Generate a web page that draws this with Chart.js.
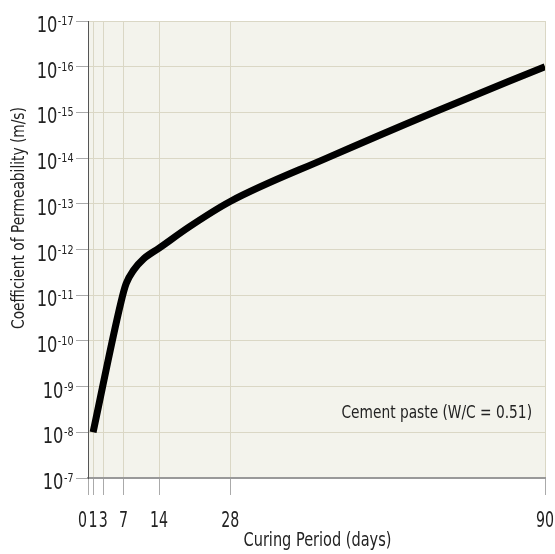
<!DOCTYPE html>
<html>
<head>
<meta charset="utf-8">
<script src="https://cdn.jsdelivr.net/npm/chart.js@4.4.1/dist/chart.umd.min.js"></script>
<style>
  html, body { margin: 0; padding: 0; background: #ffffff; }
  #wrap { width: 555px; height: 554px; }
</style>
</head>
<body>
<div id="wrap"><canvas id="c" width="555" height="554"></canvas></div>
<script>
// ---- data ----
// curing period in days
const curingDays = [1, 6.5, 7.5, 9, 11, 14, 20, 28, 47, 68, 90];
// permeability exponent n, value = 10^-n m/s
const permExponent = [8.0, 10.85, 11.25, 11.55, 11.8, 12.03, 12.5, 13.05, 14.0, 15.0, 16.0];
// axis ticks
const xTickValues = [0, 1, 3, 7, 14, 28, 90];
const yTickExponents = [7, 8, 9, 10, 11, 12, 13, 14, 15, 16, 17];
const seriesLabel = 'Cement paste (W/C = 0.51)';
const xTitle = 'Curing Period (days)';
const yTitle = 'Coefficient of Permeability (m/s)';

const FONT = "'Liberation Sans Narrow', 'DejaVu Sans Condensed', 'Roboto Condensed', 'Liberation Sans', sans-serif";
const TEXT = '#222222';

// draw text horizontally condensed
function txt(ctx, s, x, y, size, align, sx, baseline) {
  ctx.save();
  ctx.font = size + 'px ' + FONT;
  ctx.textAlign = align;
  ctx.textBaseline = baseline || 'alphabetic';
  ctx.translate(x, y);
  ctx.scale(sx, 1);
  ctx.fillText(s, 0, 0);
  ctx.restore();
}
function tw(ctx, s, size, sx) {
  ctx.save();
  ctx.font = size + 'px ' + FONT;
  const w = ctx.measureText(s).width * sx;
  ctx.restore();
  return w;
}

const bgPlugin = {
  id: 'plotBg',
  beforeDraw(chart) {
    const {ctx, chartArea: a} = chart;
    ctx.save();
    ctx.fillStyle = '#f3f3ec';
    ctx.fillRect(a.left, a.top, a.right - a.left, a.bottom - a.top);
    ctx.restore();
  }
};

const textPlugin = {
  id: 'texts',
  afterDraw(chart) {
    const {ctx, chartArea: a} = chart;
    const ys = chart.scales.y, xs = chart.scales.x;
    ctx.save();
    ctx.fillStyle = TEXT;
    // y tick labels 10^-n
    yTickExponents.forEach(n => {
      const y = ys.getPixelForValue(n);
      const base = '10', sup = '-' + n;
      const wb = tw(ctx, base, 22, 0.82);
      const ws = tw(ctx, sup, 13, 0.82);
      const x0 = 73 - ws - wb;
      txt(ctx, base, x0, y + 11, 22, 'left', 0.82);
      txt(ctx, sup, x0 + wb + 0.5, y + 4, 13, 'left', 0.82);
    });
    // x tick labels
    xTickValues.forEach((v, i) => {
      const x = xs.getPixelForValue(v);
      const align = i === 0 ? 'right' : 'center';
      txt(ctx, String(v), i === 0 ? x - 1 : x, 527, 21, align, 0.75);
    });
    // x title
    txt(ctx, xTitle, (a.left + a.right) / 2 + 1, 546, 19, 'center', 0.85);
    // y title
    ctx.save();
    ctx.translate(24, 218);
    ctx.rotate(-Math.PI / 2);
    txt(ctx, yTitle, 0, 0, 17, 'center', 0.9);
    ctx.restore();
    // series annotation
    txt(ctx, seriesLabel, a.right - 13, ys.getPixelForValue(8.45) + 6, 18, 'right', 0.85);
    ctx.restore();
  }
};

new Chart(document.getElementById('c'), {
  type: 'line',
  data: {
    datasets: [{
      label: seriesLabel,
      data: curingDays.map((d, i) => ({x: d, y: permExponent[i]})),
      borderColor: '#000000',
      borderWidth: 7,
      borderCapStyle: 'butt',
      borderJoinStyle: 'round',
      pointRadius: 0,
      cubicInterpolationMode: 'monotone',
      fill: false
    }]
  },
  options: {
    responsive: false,
    animation: false,
    devicePixelRatio: 1,
    layout: { padding: { left: 0, right: 10, top: 21, bottom: 0 } },
    plugins: { legend: { display: false }, tooltip: { enabled: false } },
    scales: {
      x: {
        type: 'linear',
        min: 0, max: 90,
        afterBuildTicks(s) { s.ticks = xTickValues.map(v => ({value: v})); },
        afterFit(s) { s.height = 76; s.paddingLeft = 0; s.paddingRight = 0; },
        grid: { color: '#dad7c5', lineWidth: 1, tickLength: 17, tickColor: '#aaaaaa' },
        border: { color: '#999999', width: 2 },
        ticks: { display: false }
      },
      y: {
        type: 'linear',
        min: 7, max: 17,
        afterBuildTicks(s) { s.ticks = yTickExponents.map(v => ({value: v})); },
        afterFit(s) { s.width = 88; s.paddingTop = 0; s.paddingBottom = 0; },
        grid: { color: '#dad7c5', lineWidth: 1, tickLength: 12, tickColor: '#aaaaaa' },
        border: { color: '#555555', width: 1 },
        ticks: { display: false }
      }
    }
  },
  plugins: [bgPlugin, textPlugin]
});
</script>
</body>
</html>
